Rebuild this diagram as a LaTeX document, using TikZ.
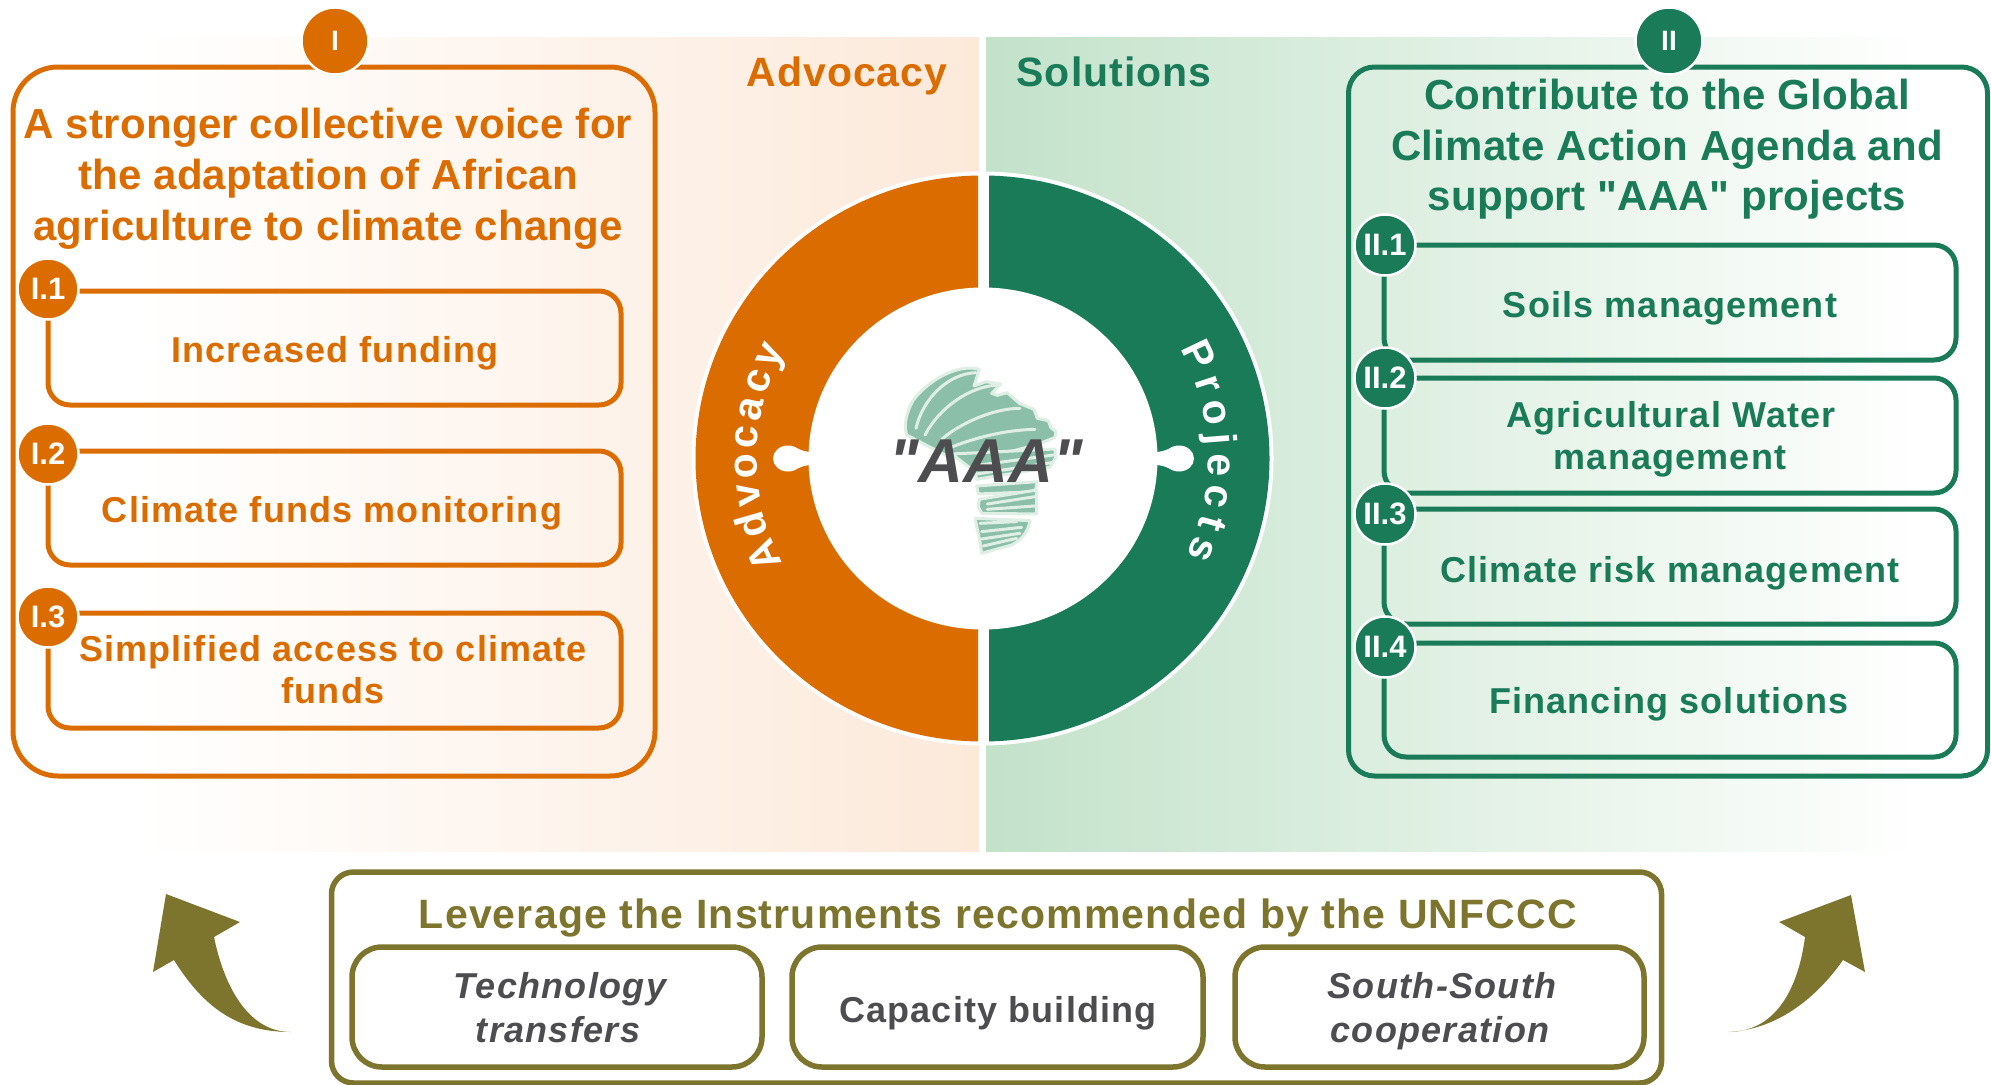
\documentclass[tikz,border=0pt]{standalone}
\usepackage{fontspec}
\setmainfont{Liberation Sans}
\newfontfamily\plainf{Liberation Sans}
\usetikzlibrary{shadows}
\definecolor{org}{HTML}{DB6D00}
\definecolor{grn}{HTML}{197B58}
\definecolor{olv}{HTML}{7D752D}
\definecolor{gry}{HTML}{4D4D4F}
\definecolor{lorg}{HTML}{FCE9DA}
\definecolor{lgrn}{HTML}{C3E2CA}
\definecolor{logo}{HTML}{8BBFA9}
\definecolor{logop}{HTML}{DFEFE5}
\newcommand{\fsz}[2]{\plainf\bfseries\addfontfeature{LetterSpace=#2}\fontsize{#1}{#1}\selectfont}
\newcommand{\fit}[2]{\plainf\bfseries\itshape\addfontfeature{LetterSpace=#2}\fontsize{#1}{#1}\selectfont}
\tikzset{
  box/.style={draw=#1,line width=5pt,rounded corners=22pt,inner sep=0pt},
  obox/.style={box=org},
  gbox/.style={box=grn},
  vbox/.style={draw=olv,line width=5.5pt,rounded corners=30pt,inner sep=0pt},
  txt/.style={inner sep=0pt,anchor=base,align=center,font=\fsz{#1}{0.6}},
  sub/.style={inner sep=0pt,anchor=base,align=center,font=\fsz{36}{3.2}},
  subi/.style={inner sep=0pt,anchor=base,align=center,text=gry,font=\fit{36}{3.6}},
  head/.style={inner sep=0pt,anchor=base,align=center,font=\fsz{41}{2.4}},
  badge/.style={circle,fill=#1,draw=white,line width=2.5pt,minimum size=61pt,inner sep=0pt,text=white,
     font=\bfseries\fontsize{31}{31}\selectfont,drop shadow={opacity=.3,shadow xshift=0pt,shadow yshift=-1pt}},
  bigbadge/.style={badge=#1,minimum size=67pt,font=\bfseries\fontsize{28}{28}\selectfont},
  ltr/.style={inner sep=0pt,anchor=base,text=white,font=\bfseries\fontsize{41}{41}\selectfont},
  lstripe/.style={draw=logop,line width=3pt,line cap=round,fill=none},
  lshape/.style={fill=logo,draw=logop,line width=3pt,line join=round},
}
\begin{document}
\begin{tikzpicture}[x=1pt,y=-1pt]
\useasboundingbox (0,0) rectangle (1991,1084);
% backgrounds
\shade[left color=white,right color=lorg,shading angle=90] (140,37) rectangle (979,851);
\shade[left color=lgrn,right color=white] (986,37) rectangle (1920,851);
% ring
\fill[white] (982.5,458.5) ellipse [x radius=291,y radius=287];
\begin{scope}
\clip (600,100) rectangle (978,800);
\fill[org] (982.5,458.5) ellipse [x radius=287,y radius=283];
\end{scope}
\begin{scope}
\clip (989,100) rectangle (1350,800);
\fill[grn] (982.5,458.5) ellipse [x radius=287,y radius=283];
\end{scope}
\fill[white] (983,458.5) ellipse [x radius=174.5,y radius=171];
% keyholes
\fill[white] (788,458.5) ellipse [x radius=15,y radius=13];
\fill[white] (786,446) .. controls (797,446) and (800,452) .. (812,452) -- (812,465) .. controls (800,465) and (797,471) .. (786,471) -- cycle;
\fill[white] (1179,458.5) ellipse [x radius=15,y radius=13];
\fill[white] (1181,446) .. controls (1170,446) and (1167,452) .. (1155,452) -- (1155,465) .. controls (1167,465) and (1170,471) .. (1181,471) -- cycle;
% ring letters
\foreach \l/\a [count=\i] in {A/24,d/16.06,v/8.96,o/1.86,c/-5.24,a/-12.1,c/-18.96,y/-25.82}
  \node[ltr,rotate=90+\a] (adv\i) at ({982.5-226*cos(\a)},{458.5+226*sin(\a)}) {\l};
\foreach \l/\a [count=\i] in {P/-25.6,r/-18.23,o/-11.13,j/-4.58,e/1.7,c/9.35,t/15.9,s/22.45}
  \node[ltr,rotate=-90-\a] (prj\i) at ({982.5+226*cos(\a)},{458.5+226*sin(\a)}) {\l};
% logo
\begin{scope}[shift={(880,350)},x=0.3333pt,y=-0.3333pt]
\path[lshape] (298,58) .. controls (240,40) and (150,85) .. (100,150) .. controls (80,185) and (70,225) .. (80,255) -- (215,325) .. controls (330,320) and (440,300) .. (525,262) -- (528,245) -- (512,232) -- (505,212) -- (472,205) -- (462,178) -- (418,160) -- (382,128) -- (352,136) -- (335,130) -- (362,102) -- (318,95) -- (282,108) -- cycle;
\draw[lstripe] (288,68) .. controls (210,70) and (130,140) .. (108,235);
\draw[lstripe] (352,105) .. controls (270,110) and (180,170) .. (135,255);
\draw[lstripe] (420,175) .. controls (340,175) and (240,220) .. (185,268);
\draw[lstripe] (465,238) .. controls (370,240) and (280,265) .. (205,295);
\path[lshape] (215,312) -- (525,297) -- (526,325) -- (510,352) -- (290,388) -- (285,365) -- cycle;
\draw[lstripe] (300,345) -- (520,315);
\draw[lstripe] (290,372) -- (515,338);
\path[lshape] (290,408) -- (472,395) -- (466,425) -- (295,432) -- cycle;
\path[lshape] (298,448) -- (470,420) -- (470,492) -- (305,490) -- (295,470) -- cycle;
\draw[lstripe] (322,462) -- (465,440);
\draw[lstripe] (322,478) -- (465,468);
\path[lshape] (285,505) -- (450,512) .. controls (445,545) and (425,570) .. (395,585) -- (305,610) -- (300,575) -- cycle;
\draw[lstripe] (300,520) -- (410,515);
\draw[lstripe] (305,545) -- (425,532);
\draw[lstripe] (305,567) -- (420,550);
\draw[lstripe] (310,588) -- (410,565);
\end{scope}
\node[inner sep=0pt,anchor=base,text=gry,font=\fit{62}{0}] (aaa) at (986,482) {"AAA"};
% section headers
\node[head,text=org] (hadv) at (847,86) {Advocacy};
\node[head,text=grn] (hsol) at (1114,86) {Solutions};
% left panel
\node[obox,rounded corners=45pt,minimum width=642pt,minimum height=709pt] (L) at (334,421.5) {};
\node[txt=42,text=org] (lt1) at (328,138) {A stronger collective voice for};
\node[txt=42,text=org] (lt2) at (328,189) {the adaptation of African};
\node[txt=42,text=org] (lt3) at (328,240) {agriculture to climate change};
\node[obox,minimum width=573pt,minimum height=114pt] (L1) at (334.5,348) {};
\node[obox,minimum width=573pt,minimum height=114pt] (L2) at (334.5,508) {};
\node[obox,minimum width=573pt,minimum height=115pt] (L3) at (334.5,670.5) {};
\node[sub,text=org] (l1t) at (335,362) {Increased funding};
\node[sub,text=org] (l2t) at (332,522) {Climate funds monitoring};
\node[sub,text=org] (l3a) at (333,661) {Simplified access to climate};
\node[sub,text=org] (l3b) at (333,703) {funds};
\node[bigbadge=org] (BI) at (335,41) {I};
\node[badge=org] (B1) at (48,289) {I.1};
\node[badge=org] (B2) at (48,454) {I.2};
\node[badge=org] (B3) at (48,617) {I.3};
% right panel
\node[gbox,rounded corners=26pt,minimum width=639pt,minimum height=709pt] (R) at (1668,421.5) {};
\node[txt=42,text=grn] (rt1) at (1667,109) {Contribute to the Global};
\node[txt=42,text=grn] (rt2) at (1667,160) {Climate Action Agenda and};
\node[txt=42,text=grn] (rt3) at (1667,210) {support "AAA" projects};
\node[gbox,minimum width=572pt,minimum height=115pt] (R1) at (1670,302.5) {};
\node[gbox,minimum width=572pt,minimum height=115pt] (R2) at (1670,435.5) {};
\node[gbox,minimum width=572pt,minimum height=115pt] (R3) at (1670,566.5) {};
\node[gbox,minimum width=572pt,minimum height=114pt] (R4) at (1670,700) {};
\node[sub,text=grn] (r1t) at (1670,317) {Soils management};
\node[sub,text=grn] (r2a) at (1671,427) {Agricultural Water};
\node[sub,text=grn] (r2b) at (1670,469) {management};
\node[sub,text=grn] (r3t) at (1670,582) {Climate risk management};
\node[sub,text=grn] (r4t) at (1669,713) {Financing solutions};
\node[bigbadge=grn] (BII) at (1669,41) {II};
\node[badge=grn] (C1) at (1385,245) {II.1};
\node[badge=grn] (C2) at (1385,378) {II.2};
\node[badge=grn] (C3) at (1385,514) {II.3};
\node[badge=grn] (C4) at (1385,647) {II.4};
% bottom
\node[vbox,rounded corners=22pt,minimum width=1330pt,minimum height=211pt] (U) at (996.5,977.5) {};
\node[inner sep=0pt,anchor=base,text=olv,font=\fsz{41}{2.9}] (ut) at (998,928) {Leverage the Instruments recommended by the UNFCCC};
\node[vbox,minimum width=410pt,minimum height=120pt] (U1) at (557,1007) {};
\node[vbox,minimum width=411pt,minimum height=120pt] (U2) at (997.5,1007) {};
\node[vbox,minimum width=409pt,minimum height=120pt] (U3) at (1439.5,1007) {};
\node[subi] (u1a) at (560,998) {Technology};
\node[subi] (u1b) at (558,1042) {transfers};
\node[sub,text=gry] (u2t) at (998,1022) {Capacity building};
\node[subi] (u3a) at (1442,998) {South-South};
\node[subi] (u3b) at (1440,1042) {cooperation};
% arrows
\fill[olv] (166,894) -- (240,922) -- (214,937) .. controls (225,990) and (250,1032) .. (291,1032) .. controls (240,1032) and (205,1010) .. (174,960) -- (153,972) -- cycle;
\fill[olv] (1851,895) -- (1779,922) -- (1805,937) .. controls (1798,990) and (1775,1032) .. (1728,1032) .. controls (1775,1030) and (1815,1000) .. (1843,960) -- (1865,972) -- cycle;
\end{tikzpicture}
\end{document}
